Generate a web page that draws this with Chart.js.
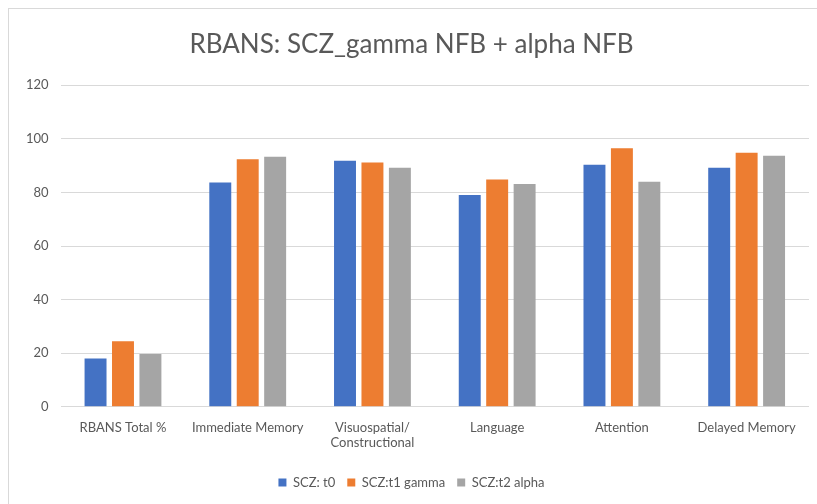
<!DOCTYPE html>
<html>
<head>
<meta charset="utf-8">
<script src="https://cdn.jsdelivr.net/npm/chart.js@4/dist/chart.umd.min.js"></script>
<style>
  html, body { margin: 0; padding: 0; background: #fff; overflow: hidden; }
  #frame { position: absolute; left: 8px; top: 8px; width: 830px; height: 520px; border: 1px solid #d9d9d9; }
  #wrap { position: absolute; left: 0; top: 0; width: 817px; height: 504px; }
</style>
</head>
<body>
<div id="frame"></div>
<div id="wrap"><canvas id="rbanschart"></canvas></div>
<script>
// categories + series
const categories = ['RBANS Total %', 'Immediate Memory', ['Visuospatial/', 'Constructional'], 'Language', 'Attention', 'Delayed Memory']
const t0Values = [18.0, 83.7, 91.8, 79.0, 90.3, 89.2]
const t1GammaValues = [24.5, 92.4, 91.2, 84.8, 96.5, 94.8]
const t2AlphaValues = [19.7, 93.3, 89.2, 83.1, 84.0, 93.7]
const yTicks = [0, 20, 40, 60, 80, 100, 120]

const fontFamily = 'Lato, "Open Sans", sans-serif'
const textColor = '#595959'

const ctx = document.getElementById('rbanschart').getContext('2d')

const data = {
    labels: categories,
    datasets: [
        { label: 'SCZ: t0', data: t0Values, backgroundColor: '#4472c4' },
        { label: 'SCZ:t1 gamma', data: t1GammaValues, backgroundColor: '#ed7d31' },
        { label: 'SCZ:t2 alpha', data: t2AlphaValues, backgroundColor: '#a5a5a5' }
    ]
}

new Chart(ctx, {
    type: 'bar',
    data: data,
    options: {
        responsive: true,
        maintainAspectRatio: false,
        animation: false,
        datasets: {
            bar: { categoryPercentage: 0.66, barPercentage: 0.8 }
        },
        layout: {
            padding: { top: 29, right: 8, bottom: 5, left: 14 }
        },
        scales: {
            x: {
                grid: { display: false },
                border: { display: false },
                ticks: { color: textColor, font: { family: fontFamily, size: 13 }, padding: 5, maxRotation: 0, autoSkip: false },
                // extra room between the labels and the legend
                afterFit: (axis) => { axis.height += 8 }
            },
            y: {
                min: 0,
                max: 120,
                afterBuildTicks: (axis) => { axis.ticks = yTicks.map(v => ({ value: v })) },
                grid: { color: '#d9d9d9', lineWidth: 1, drawTicks: false },
                border: { display: false },
                ticks: { color: textColor, font: { family: fontFamily, size: 13 }, padding: 12 }
            }
        },
        plugins: {
            title: {
                display: true,
                text: 'RBANS: SCZ_gamma NFB + alpha NFB',
                color: textColor,
                font: { family: fontFamily, size: 26, weight: 'normal' },
                padding: { top: 0, bottom: 25 }
            },
            legend: {
                position: 'bottom',
                labels: {
                    color: textColor,
                    font: { family: fontFamily, size: 13 },
                    boxWidth: 8,
                    boxHeight: 8,
                    padding: 12
                }
            },
            tooltip: { enabled: false }
        }
    }
})
</script>
</body>
</html>
